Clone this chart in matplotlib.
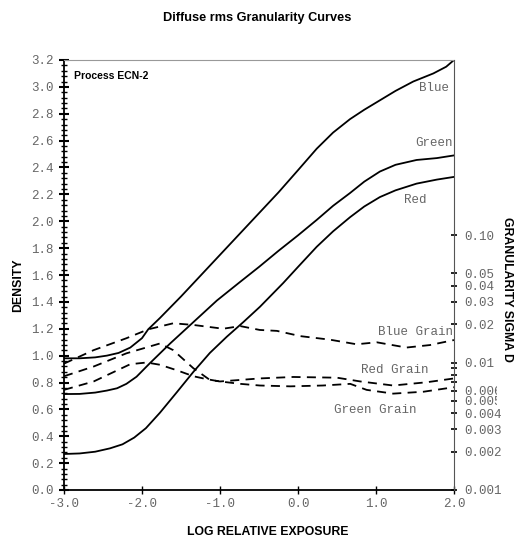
import numpy as np
import matplotlib
matplotlib.use('Agg')
import matplotlib.pyplot as plt
import matplotlib.ticker as mtick
from matplotlib.transforms import Bbox

# characteristic curves (log exposure, density)
blue_x = [-3.0, -2.8, -2.6, -2.45, -2.3, -2.15, -2.0, -1.92, -1.77, -1.5, -1.25, -1.0, -0.75, -0.5, -0.25, 0.0, 0.24, 0.45, 0.667, 0.85, 1.05, 1.25, 1.478, 1.735, 1.9, 2.0]
blue_d = [0.98, 0.98, 0.987, 1.0, 1.02, 1.06, 1.13, 1.196, 1.28, 1.44, 1.595, 1.75, 1.905, 2.06, 2.215, 2.38, 2.54, 2.66, 2.76, 2.83, 2.90, 2.97, 3.04, 3.10, 3.15, 3.2]

green_x = [-3.0, -2.8, -2.6, -2.45, -2.32, -2.2, -2.07, -1.9, -1.64, -1.34, -1.04, -0.75, -0.5, -0.25, 0.0, 0.24, 0.45, 0.667, 0.85, 1.05, 1.25, 1.52, 1.78, 2.0]
green_d = [0.714, 0.715, 0.725, 0.74, 0.757, 0.79, 0.843, 0.943, 1.09, 1.25, 1.41, 1.545, 1.66, 1.78, 1.895, 2.01, 2.115, 2.21, 2.295, 2.37, 2.42, 2.456, 2.47, 2.49]

red_x = [-3.0, -2.8, -2.6, -2.41, -2.25, -2.1, -1.95, -1.77, -1.55, -1.34, -1.13, -0.914, -0.7, -0.487, -0.19, 0.0, 0.24, 0.45, 0.667, 0.85, 1.05, 1.25, 1.52, 1.78, 2.0]
red_d = [0.268, 0.272, 0.285, 0.31, 0.34, 0.39, 0.46, 0.575, 0.73, 0.88, 1.02, 1.14, 1.25, 1.364, 1.54, 1.66, 1.81, 1.925, 2.03, 2.11, 2.18, 2.23, 2.28, 2.31, 2.33]

# rms granularity (log exposure, sigma D)
bgrain_x = [-3.0, -2.62, -2.2, -1.92, -1.6, -1.34, -0.96, -0.74, -0.49, -0.27, 0.03, 0.41, 0.75, 1.01, 1.39, 1.69, 2.0]
bgrain_s = [0.0098, 0.0125, 0.0155, 0.0182, 0.0203, 0.0197, 0.0184, 0.0193, 0.0180, 0.0177, 0.0161, 0.0151, 0.0139, 0.0144, 0.0131, 0.0137, 0.0150]

rgrain_x = [-3.0, -2.62, -2.2, -1.77, -1.6, -1.34, -1.13, -1.0, -0.74, -0.49, -0.06, 0.5, 0.8, 1.22, 1.65, 2.0]
rgrain_s = [0.0078, 0.0093, 0.0118, 0.0141, 0.0125, 0.0090, 0.0073, 0.0071, 0.0073, 0.0075, 0.0077, 0.0076, 0.0071, 0.0066, 0.0070, 0.0075]

ggrain_x = [-3.0, -2.62, -2.15, -1.94, -1.77, -1.555, -1.34, -1.17, -1.0, -0.74, -0.49, -0.1, 0.32, 0.67, 0.88, 1.22, 1.61, 2.0]
ggrain_s = [0.0061, 0.0071, 0.0097, 0.0100, 0.0096, 0.0087, 0.0078, 0.0074, 0.0071, 0.0068, 0.0066, 0.0065, 0.0066, 0.0068, 0.0061, 0.0057, 0.0059, 0.0064]

xticks = [-3.0, -2.0, -1.0, 0.0, 1.0, 2.0]
dticks = np.arange(0, 3.21, 0.2)
sticks = [0.001, 0.002, 0.003, 0.004, 0.005, 0.006, 0.01, 0.02, 0.03, 0.04, 0.05, 0.10]
slabels = ['0.001', '0.002', '0.003', '0.004', '0.005', '0.006', '0.01', '0.02', '0.03', '0.04', '0.05', '0.10']

mono = 'Liberation Mono'
sans = 'Liberation Sans'
grey = '#666666'

fig = plt.figure(figsize=(5.15, 5.43), dpi=100)
ax = fig.add_axes([64/515, 53/543, 390/515, 430/543])
ax2 = ax.twinx()

lw = 1.3
ax.plot(blue_x, blue_d, color='black', lw=lw)
ax.plot(green_x, green_d, color='black', lw=lw)
ax.plot(red_x, red_d, color='black', lw=lw)

dash = (0, (5, 3.5))
ax2.plot(bgrain_x, bgrain_s, color='black', lw=lw, linestyle=dash)
ax2.plot(rgrain_x, rgrain_s, color='black', lw=lw, linestyle=dash)
ax2.plot(ggrain_x, ggrain_s, color='black', lw=lw, linestyle=dash)

ax.set_xlim(-3, 2)
ax.set_ylim(0, 3.2)
ax2.set_yscale('log')
ax2.set_ylim(0.001, 0.001 * 10 ** (430 / 127.5))

ax.set_xticks(xticks)
ax.set_xticklabels([f'{v:.1f}' for v in xticks])
ax.set_yticks(dticks)
ax.set_yticklabels([f'{v:.1f}' for v in dticks])
ax.yaxis.set_minor_locator(mtick.MultipleLocator(0.04))
ax2.yaxis.set_major_locator(mtick.FixedLocator(sticks))
ax2.yaxis.set_major_formatter(mtick.FixedFormatter(slabels))
ax2.yaxis.set_minor_locator(mtick.FixedLocator([0.007, 0.008, 0.009]))
ax2.yaxis.set_minor_formatter(mtick.NullFormatter())

for a in (ax, ax2):
    for lab in a.get_xticklabels() + a.get_yticklabels():
        lab.set_fontfamily(mono)
        lab.set_fontsize(9)
        lab.set_color(grey)

# the two crowded labels are cut off, as in the original
clip = Bbox.from_extents(0, 0, 497, 543)
for t in ax2.yaxis.get_major_ticks():
    if t.label2.get_text() in ('0.005', '0.006'):
        t.label2.set_clip_box(clip)
        t.label2.set_clip_on(True)

ax.tick_params(axis='x', direction='inout', length=6, width=1, pad=3)
ax.tick_params(axis='y', which='major', direction='inout', length=7, width=1.5, pad=4)
ax.tick_params(axis='y', which='minor', direction='inout', length=5, width=1)
ax.tick_params(right=False, top=False)
ax2.tick_params(axis='y', which='both', direction='inout', length=5, width=1.2, pad=5)

ax.spines['left'].set_color('black')
ax.spines['bottom'].set_color('black')
ax.spines['left'].set_linewidth(1.3)
ax.spines['bottom'].set_linewidth(1.3)
ax.spines['top'].set_color('#999999')
ax.spines['right'].set_visible(False)
ax2.spines['top'].set_visible(False)
ax2.spines['left'].set_visible(False)
ax2.spines['bottom'].set_visible(False)
ax2.spines['right'].set_color('#555555')

ax.text(-2.87, 3.08, 'Process ECN-2', fontfamily=sans, fontweight='bold', fontsize=7.5, va='center')
ax.text(1.74, 2.994, 'Blue', fontfamily=mono, fontsize=9, color=grey, ha='center', va='center')
ax.text(1.75, 2.58, 'Green', fontfamily=mono, fontsize=9, color=grey, ha='center', va='center')
ax.text(1.506, 2.158, 'Red', fontfamily=mono, fontsize=9, color=grey, ha='center', va='center')
ax.text(1.5, 1.178, 'Blue Grain', fontfamily=mono, fontsize=9, color=grey, ha='center', va='center')
ax.text(1.244, 0.895, 'Red Grain', fontfamily=mono, fontsize=9, color=grey, ha='center', va='center')
ax.text(0.994, 0.598, 'Green Grain', fontfamily=mono, fontsize=9, color=grey, ha='center', va='center')

fig.text(257/515, 1 - 18/543, 'Diffuse rms Granularity Curves', fontfamily=sans, fontweight='bold',
         fontsize=9.2, ha='center', va='center')
fig.text(268/515, 1 - 532/543, 'LOG RELATIVE EXPOSURE', fontfamily=sans, fontweight='bold',
         fontsize=8.8, ha='center', va='center')
fig.text(18/515, 1 - 285/543, 'DENSITY', fontfamily=sans, fontweight='bold',
         fontsize=8.8, ha='center', va='center', rotation=90)
fig.text(507/515, 1 - 289/543, 'GRANULARITY SIGMA D', fontfamily=sans, fontweight='bold',
         fontsize=8.8, ha='center', va='center', rotation=-90)

fig.savefig('out.png', dpi=100)
